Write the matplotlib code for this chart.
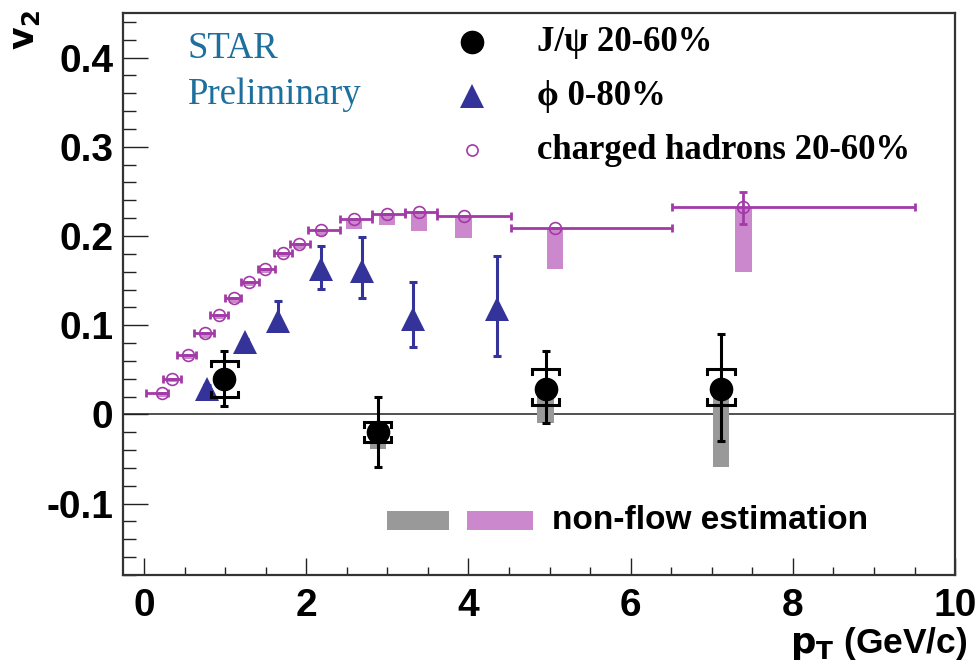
import matplotlib
matplotlib.use("Agg")
import matplotlib.pyplot as plt
import numpy as np
from matplotlib.patches import Rectangle
from matplotlib.ticker import MultipleLocator

# ---- charged hadrons 20-60% ----
h_pt = [0.22, 0.34, 0.54, 0.75, 0.93, 1.11, 1.30, 1.49, 1.71, 1.91,
        2.18, 2.59, 3.00, 3.39, 3.94, 5.07, 7.39]
h_v2 = [0.024, 0.040, 0.067, 0.091, 0.112, 0.130, 0.149, 0.163, 0.181, 0.191,
        0.207, 0.219, 0.225, 0.227, 0.222, 0.209, 0.232]
h_bin_lo = [0.02, 0.23, 0.41, 0.61, 0.81, 1.00, 1.20, 1.40, 1.60, 1.80,
            2.02, 2.41, 2.81, 3.22, 3.61, 4.52, 6.51]
h_bin_hi = [0.30, 0.45, 0.64, 0.86, 1.04, 1.20, 1.42, 1.61, 1.82, 2.04,
            2.42, 2.81, 3.22, 3.61, 4.52, 6.51, 9.50]
h_err_up = [0, 0, 0, 0, 0, 0, 0, 0, 0, 0, 0, 0, 0, 0, 0, 0, 0.017]
h_err_dn = [0, 0, 0, 0, 0, 0, 0, 0, 0, 0, 0, 0, 0, 0, 0, 0, 0.018]
h_nonflow = [0.020, 0.036, 0.062, 0.086, 0.107, 0.125, 0.144, 0.158, 0.176, 0.186,
             0.200, 0.208, 0.212, 0.206, 0.1975, 0.163, 0.160]

# ---- phi 0-80% ----
phi_pt = [0.78, 1.24, 1.65, 2.18, 2.69, 3.31, 4.35]
phi_v2 = [0.029, 0.081, 0.105, 0.163, 0.161, 0.107, 0.118]
phi_err_up = [0.004, 0.004, 0.022, 0.026, 0.038, 0.041, 0.060]
phi_err_dn = [0.004, 0.004, 0.009, 0.022, 0.031, 0.031, 0.053]

# ---- J/psi 20-60% ----
j_pt = [0.99, 2.88, 4.95, 7.11]
j_v2 = [0.040, -0.020, 0.029, 0.029]
j_err_up = [0.031, 0.039, 0.042, 0.061]
j_err_dn = [0.030, 0.039, 0.039, 0.059]
j_sys_up = [0.020, 0.012, 0.022, 0.022]
j_sys_dn = [0.021, 0.011, 0.018, 0.018]
j_nonflow = [np.nan, -0.039, -0.010, -0.059]

x_ticks = [0, 2, 4, 6, 8, 10]
y_ticks = [-0.1, 0, 0.1, 0.2, 0.3, 0.4]
y_tick_labels = ["-0.1", "0", "0.1", "0.2", "0.3", "0.4"]

PURPLE = "#a23aa8"
PURPLE_FILL = "#cc88cc"
BLUE = "#333399"
GRAY = "#999999"
STAR_BLUE = "#1d6f9e"

plt.rcParams["font.family"] = ["Liberation Sans", "DejaVu Sans"]

fig = plt.figure(figsize=(9.79, 6.63), dpi=100)
ax = fig.add_axes([0.1256, 0.1327, 0.8500, 0.8477])
ax.set_xlim(-0.26, 10.0)
ax.set_ylim(-0.18, 0.45)

# frame and ticks
for side in ("top", "right", "bottom", "left"):
    ax.spines[side].set_linewidth(1.6)
    ax.spines[side].set_color("#333333")
ax.xaxis.set_major_locator(MultipleLocator(2))
ax.xaxis.set_minor_locator(MultipleLocator(0.5))
ax.yaxis.set_major_locator(MultipleLocator(0.1))
ax.yaxis.set_minor_locator(MultipleLocator(0.02))
ax.tick_params(axis="x", which="major", direction="in", length=12, width=1.0,
               top=False, pad=9, labelsize=28, color="#222222")
ax.tick_params(axis="x", which="minor", direction="in", length=6, width=1.0,
               top=False, color="#222222")
ax.tick_params(axis="y", which="major", direction="in", length=18, width=1.0,
               right=False, pad=7, labelsize=28, color="#222222")
ax.tick_params(axis="y", which="minor", direction="in", length=9, width=1.0,
               right=False, color="#222222")
ax.set_xticks(x_ticks)
ax.set_xticklabels([str(t) for t in x_ticks], fontweight="bold")
ax.set_yticks(y_ticks)
ax.set_yticklabels(y_tick_labels, fontweight="bold")

# zero line
ax.axhline(0, color="#333333", lw=1.2, zorder=1)

# non-flow boxes: charged hadrons
for x, v, lo in zip(h_pt, h_v2, h_nonflow):
    hw = 0.065 if x < 2.4 else 0.1
    ax.add_patch(Rectangle((x - hw, lo), 2 * hw, v - lo, facecolor=PURPLE_FILL,
                           edgecolor="none", zorder=2))

# non-flow boxes: J/psi
for x, v, lo in zip(j_pt, j_v2, j_nonflow):
    if np.isnan(lo):
        continue
    ax.add_patch(Rectangle((x - 0.1, lo), 0.2, v - lo, facecolor=GRAY,
                           edgecolor="none", zorder=2))

# charged hadrons
h_pt_a = np.array(h_pt)
xerr = [h_pt_a - np.array(h_bin_lo), np.array(h_bin_hi) - h_pt_a]
ax.errorbar(h_pt, h_v2, xerr=xerr, yerr=[h_err_dn, h_err_up], fmt="none",
            ecolor=PURPLE, elinewidth=2.0, capsize=3, capthick=2.0, zorder=3)
ax.plot(h_pt, h_v2, linestyle="none", marker="o", markersize=8.5,
        markerfacecolor="none", markeredgecolor=PURPLE, markeredgewidth=1.2,
        zorder=4)

# phi
ax.errorbar(phi_pt, phi_v2, yerr=[phi_err_dn, phi_err_up], fmt="none",
            ecolor=BLUE, elinewidth=2.2, capsize=3, capthick=2.2, zorder=3)
ax.plot(phi_pt, phi_v2, linestyle="none", marker="^", markersize=17,
        color=BLUE, markeredgewidth=0, zorder=4)

# J/psi with systematic brackets
ax.errorbar(j_pt, j_v2, yerr=[j_err_dn, j_err_up], fmt="none",
            ecolor="black", elinewidth=2.2, capsize=3, capthick=2.2, zorder=5)
bw, bd = 0.17, 0.006
for x, v, su, sd in zip(j_pt, j_v2, j_sys_up, j_sys_dn):
    hi, lo = v + su, v - sd
    ax.plot([x - bw, x - bw, x + bw, x + bw], [hi - bd, hi, hi, hi - bd],
            color="black", lw=2.2, solid_joinstyle="miter", zorder=5)
    ax.plot([x - bw, x - bw, x + bw, x + bw], [lo + bd, lo, lo, lo + bd],
            color="black", lw=2.2, solid_joinstyle="miter", zorder=5)
ax.plot(j_pt, j_v2, linestyle="none", marker="o", markersize=16,
        color="black", zorder=6)

# legend (upper)
serif = ["Liberation Serif", "DejaVu Serif"]
leg_x, leg_tx = 0.420, 0.497
rows = [0.948, 0.852, 0.756]
ax.plot([leg_x], [rows[0]], transform=ax.transAxes, marker="o", markersize=16,
        color="black", clip_on=False)
ax.plot([leg_x], [rows[1]], transform=ax.transAxes, marker="^", markersize=17,
        color=BLUE, markeredgewidth=0, clip_on=False)
ax.plot([leg_x], [rows[2]], transform=ax.transAxes, marker="o", markersize=8,
        markerfacecolor="none", markeredgecolor=PURPLE, markeredgewidth=1.2,
        clip_on=False)
ax.text(leg_tx, rows[0], "J/\u03c8 20-60%", transform=ax.transAxes, family=serif,
        fontweight="bold", fontsize=25, va="center", ha="left")
ax.text(leg_tx, rows[1], "\u03d5 0-80%", transform=ax.transAxes, family=serif,
        fontweight="bold", fontsize=25, va="center", ha="left")
ax.text(leg_tx, rows[2], "charged hadrons 20-60%", transform=ax.transAxes,
        family=serif, fontweight="bold", fontsize=25, va="center", ha="left")

# STAR Preliminary
ax.text(0.078, 0.920, "STAR", transform=ax.transAxes, family=serif,
        fontsize=26.5, color=STAR_BLUE, va="baseline", ha="left")
ax.text(0.078, 0.838, "Preliminary", transform=ax.transAxes, family=serif,
        fontsize=26.5, color=STAR_BLUE, va="baseline", ha="left")

# non-flow legend
ax.add_patch(Rectangle((0.317, 0.080), 0.075, 0.034, transform=ax.transAxes,
                       facecolor=GRAY, edgecolor="none"))
ax.add_patch(Rectangle((0.413, 0.080), 0.080, 0.034, transform=ax.transAxes,
                       facecolor=PURPLE_FILL, edgecolor="none"))
ax.text(0.515, 0.097, "non-flow estimation", transform=ax.transAxes,
        fontsize=24, fontweight="bold", va="center", ha="left")

# axis titles
fig.text(0.988, 0.002, r"$\mathbf{p_T}$ (GeV/c)", fontsize=25.5, fontweight="bold",
         ha="right", va="bottom")
fig.text(0.026, 0.985, r"$\mathbf{v_2}$", fontsize=25, fontweight="bold",
         rotation=90, ha="center", va="top")

fig.savefig("out.png", dpi=100)
